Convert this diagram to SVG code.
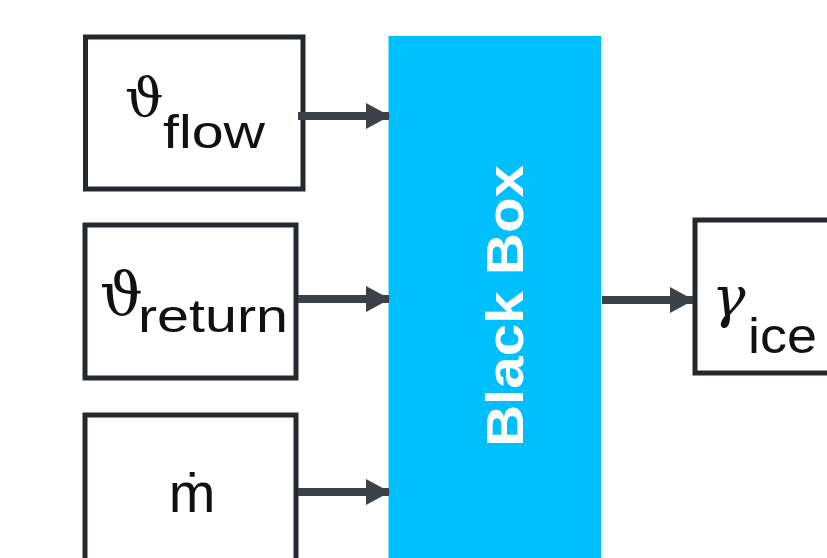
<svg xmlns="http://www.w3.org/2000/svg" width="827" height="558" viewBox="0 0 827 558">
  <defs>
    <style>
      .box { fill: #ffffff; stroke: #25282c; stroke-width: 5; }
      .lbl { font-family: "Liberation Sans", Arial, sans-serif; fill: #111111; }
      .sym { font-family: "DejaVu Serif", "Liberation Serif", serif; fill: #111111; }
      .conn { stroke: #3c4148; stroke-width: 8; fill: none; }
      .bbtxt { font-family: "Liberation Sans", Arial, sans-serif; font-weight: bold; fill: #ffffff; }
    </style>
    <marker id="ah" markerUnits="userSpaceOnUse" markerWidth="24" markerHeight="26" refX="23" refY="13" orient="auto">
      <path d="M0,0 L24,13 L0,26 Z" fill="#3c4148"/>
    </marker>
  </defs>
  <rect width="827" height="558" fill="#ffffff"/>

  <g id="blackbox">
    <rect x="388.5" y="36" width="212.5" height="530" fill="#00bfff"/>
    <text class="bbtxt" font-size="52" transform="translate(523,306) rotate(-90)" text-anchor="middle" textLength="282" lengthAdjust="spacingAndGlyphs">Black Box</text>
  </g>

  <g id="flow">
    <rect class="box" x="85.5" y="37" width="217.5" height="152"/>
    <text class="sym" x="125" y="116" font-size="54">ϑ</text>
    <text class="lbl" x="163" y="148" font-size="47" textLength="102" lengthAdjust="spacingAndGlyphs">flow</text>
  </g>

  <g id="return">
    <rect class="box" x="85" y="225" width="211" height="153"/>
    <text class="sym" x="100" y="315" font-size="60">ϑ</text>
    <text class="lbl" x="138" y="332" font-size="46" textLength="150" lengthAdjust="spacingAndGlyphs">return</text>
  </g>

  <g id="mdot">
    <rect class="box" x="85" y="415" width="211" height="160"/>
    <text class="lbl" x="192" y="512" font-size="56" text-anchor="middle">ṁ</text>
  </g>

  <g id="ice">
    <rect class="box" x="695" y="220" width="150" height="153"/>
    <text class="sym" x="712" y="316" font-size="56" font-style="italic">γ</text>
    <text class="lbl" x="748" y="353" font-size="50" textLength="69" lengthAdjust="spacingAndGlyphs">ice</text>
  </g>

  <g id="connectors">
    <line class="conn" x1="298" y1="116" x2="389" y2="116" marker-end="url(#ah)"/>
    <line class="conn" x1="298" y1="299" x2="389" y2="299" marker-end="url(#ah)"/>
    <line class="conn" x1="298" y1="492" x2="389" y2="492" marker-end="url(#ah)"/>
    <line class="conn" x1="602" y1="300" x2="693" y2="300" marker-end="url(#ah)"/>
  </g>
</svg>
